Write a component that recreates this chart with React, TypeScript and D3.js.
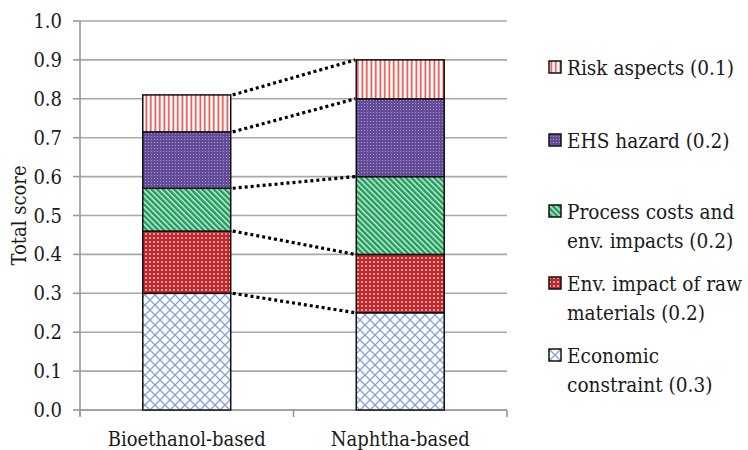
import React from "react";
import * as d3 from "d3";

// Categories and stacked criteria scores (bottom to top)
const categories = ["Bioethanol-based", "Naphtha-based"];
const economicConstraint = [0.3, 0.25];
const envImpactRaw = [0.16, 0.15];
const processCosts = [0.11, 0.2];
const ehsHazard = [0.145, 0.2];
const riskAspects = [0.095, 0.1];

const seriesKeys = ["economic", "envRaw", "process", "ehs", "risk"];
const seriesValues = [economicConstraint, envImpactRaw, processCosts, ehsHazard, riskAspects];

// Legend entries, top to bottom, each split over its lines
const legendKeys = ["risk", "ehs", "process", "envRaw", "economic"];
const legendLines = [
  ["Risk aspects (0.1)"],
  ["EHS hazard (0.2)"],
  ["Process costs and", "env. impacts (0.2)"],
  ["Env. impact of raw", "materials (0.2)"],
  ["Economic", "constraint (0.3)"],
];

const yTicks = [0, 0.1, 0.2, 0.3, 0.4, 0.5, 0.6, 0.7, 0.8, 0.9, 1.0];

const W = 748;
const H = 450;
const margin = { left: 80, right: 241, top: 21, bottom: 40 };
const FONT = '"DejaVu Serif Condensed", "DejaVu Serif", serif';

export default function App() {
  const x = d3
    .scaleBand<string>()
    .domain(categories)
    .range([margin.left, W - margin.right])
    .paddingInner(0.588)
    .paddingOuter(0.294);
  const y = d3.scaleLinear().domain([0, 1]).range([H - margin.bottom, margin.top]);

  const rows = categories.map((c, i) => {
    const r: Record<string, any> = { category: c };
    seriesKeys.forEach((k, j) => (r[k] = seriesValues[j][i]));
    return r;
  });
  const stacked = d3.stack<any>().keys(seriesKeys)(rows);

  const x0 = margin.left;
  const x1 = W - margin.right;
  const bw = x.bandwidth();
  const bioRight = (x(categories[0]) as number) + bw;
  const naphLeft = x(categories[1]) as number;

  const legendTop = [75, 148, 219, 291, 363];
  const lineGap = 29;

  const textStyle = { fontFamily: FONT, fontSize: "20px", fontStretch: "condensed" };
  const legendStyle = { ...textStyle, fontSize: "20.6px" };

  return (
    <svg
      width={W}
      height={H}
      style={{ position: "absolute", left: 0, top: 0, background: "#fff", fontFamily: FONT }}
    >
      <defs>
        <pattern id="p-risk" patternUnits="userSpaceOnUse" width={4.5} height={4}>
          <rect width={4.5} height={4} fill="#fff" />
          <rect x={1.5} width={1.6} height={4} fill="#e4463e" />
        </pattern>
        <pattern id="p-ehs" patternUnits="userSpaceOnUse" width={3} height={3}>
          <rect width={3} height={3} fill="#654c98" />
          <rect x={1} y={1} width={1} height={1} fill="#a898cf" />
        </pattern>
        <pattern
          id="p-process"
          patternUnits="userSpaceOnUse"
          width={4}
          height={4}
          patternTransform="rotate(45)"
        >
          <rect width={4} height={4} fill="#1e9e5c" />
          <rect width={4} height={1.4} fill="#d9f0e2" />
        </pattern>
        <pattern id="p-envRaw" patternUnits="userSpaceOnUse" width={4} height={4}>
          <rect width={4} height={4} fill="#c3272c" />
          <rect x={1.2} y={1.2} width={1.6} height={1.6} fill="#f6dede" />
        </pattern>
        <pattern id="p-economic" patternUnits="userSpaceOnUse" width={10} height={10}>
          <rect width={10} height={10} fill="#fff" />
          <path d="M0,0 L10,10 M10,0 L0,10" stroke="#84a2d4" strokeWidth={1.3} />
        </pattern>
      </defs>

      {/* gridlines */}
      {yTicks.map((t) => (
        <line
          key={"g" + t}
          x1={x0}
          x2={x1}
          y1={y(t)}
          y2={y(t)}
          stroke="#a8a8a8"
          strokeWidth={1.6}
        />
      ))}

      {/* y axis */}
      <line x1={x0} x2={x0} y1={y(1)} y2={y(0) + 6} stroke="#999" strokeWidth={1.6} />
      {yTicks.map((t) => (
        <g key={"t" + t}>
          <line x1={x0 - 7} x2={x0} y1={y(t)} y2={y(t)} stroke="#999" strokeWidth={1.6} />
          <text x={62} y={y(t)} dy="0.35em" textAnchor="end" style={textStyle} fill="#1a1a1a">
            {t.toFixed(1)}
          </text>
        </g>
      ))}
      <text
        transform={`translate(26, ${(y(0) + y(1)) / 2}) rotate(-90)`}
        textAnchor="middle"
        style={textStyle}
        fill="#1a1a1a"
      >
        Total score
      </text>

      {/* x axis */}
      <line x1={x0} x2={x1} y1={y(0)} y2={y(0)} stroke="#999" strokeWidth={1.6} />
      {[x0, (x0 + x1) / 2, x1].map((p, i) => (
        <line key={"xt" + i} x1={p} x2={p} y1={y(0)} y2={y(0) + 7} stroke="#999" strokeWidth={1.6} />
      ))}
      {categories.map((c) => (
        <text
          key={c}
          x={(x(c) as number) + bw / 2}
          y={446}
          textAnchor="middle"
          style={textStyle}
          fill="#1a1a1a"
        >
          {c}
        </text>
      ))}

      {/* stacked bars */}
      {stacked.map((layer) => (
        <g key={layer.key}>
          {layer.map((d, i) => (
            <rect
              key={i}
              x={x(categories[i])}
              y={y(d[1])}
              width={bw}
              height={y(d[0]) - y(d[1])}
              fill={`url(#p-${layer.key})`}
              stroke="#111"
              strokeWidth={1.5}
            />
          ))}
        </g>
      ))}

      {/* dotted connectors between segment tops */}
      {stacked.map((layer) => (
        <line
          key={"c" + layer.key}
          x1={bioRight + 2}
          y1={y(layer[0][1])}
          x2={naphLeft - 1}
          y2={y(layer[1][1])}
          stroke="#000"
          strokeWidth={3.2}
          strokeDasharray="3 3"
        />
      ))}

      {/* legend */}
      {legendKeys.map((k, i) => (
        <g key={"l" + k}>
          <rect
            x={549}
            y={legendTop[i] - 14}
            width={12}
            height={12}
            fill={`url(#p-${k})`}
            stroke="#111"
            strokeWidth={1.5}
          />
          {legendLines[i].map((ln, j) => (
            <text key={j} x={567} y={legendTop[i] + j * lineGap} style={legendStyle} fill="#1a1a1a">
              {ln}
            </text>
          ))}
        </g>
      ))}
    </svg>
  );
}
